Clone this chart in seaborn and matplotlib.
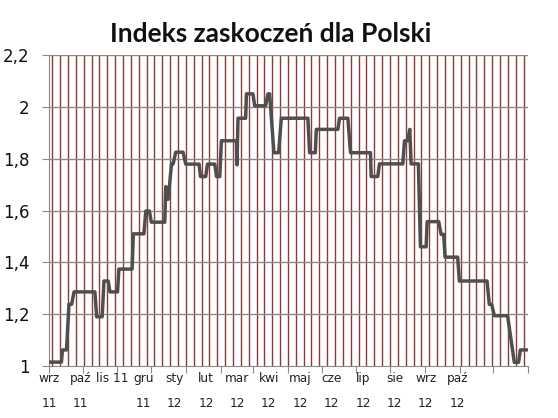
import numpy as np
import pandas as pd
import matplotlib
matplotlib.use("Agg")
import matplotlib.pyplot as plt
import seaborn as sns

# ---- data (x = days since 1 Sep 2011) ----
day_offset = [0, 11.1, 12.0, 15.6, 17.8, 20.2, 22.3, 40.9, 42.5, 47.4, 49.0, 52.8,
              54.3, 61.1, 62.3, 74.1, 75.2, 84.6, 86.3, 89.5, 91.2, 103.2, 104.1,
              106.2, 109.2, 110.6, 113.0, 119.5, 121.9, 133.8, 135.0, 139.7, 141.3,
              147.8, 149.3, 152.2, 153.7, 167.1, 167.6, 168.5, 175.3, 176.0, 181.8,
              183.4, 193.1, 195.2, 196.7, 200.5, 204.7, 207.1, 230.8, 232.3, 237.4,
              238.3, 257.5, 259.0, 266.4, 268.8, 286.6, 287.2, 293.1, 294.6, 315.4,
              316.9, 319.8, 321.6, 322.8, 329.3, 331.1, 336.2, 337.1, 347.4, 349.6,
              351.8, 353.1, 364.3, 365.8, 390.5, 392.5, 394.6, 397.0, 408.8, 414.8,
              418.6, 420.1, 426.1]
index_value = [1.015, 1.015, 1.062, 1.062, 1.238, 1.238, 1.286, 1.286, 1.19, 1.19,
               1.328, 1.328, 1.286, 1.286, 1.374, 1.374, 1.51, 1.51, 1.598, 1.598,
               1.555, 1.555, 1.692, 1.643, 1.779, 1.779, 1.825, 1.825, 1.779, 1.779,
               1.731, 1.731, 1.779, 1.779, 1.731, 1.731, 1.869, 1.869, 1.776, 1.956,
               1.956, 2.05, 2.05, 2.004, 2.004, 2.05, 2.05, 1.823, 1.823, 1.956,
               1.956, 1.823, 1.823, 1.913, 1.913, 1.956, 1.956, 1.823, 1.823, 1.731,
               1.731, 1.78, 1.78, 1.869, 1.869, 1.913, 1.78, 1.78, 1.46, 1.46,
               1.557, 1.557, 1.508, 1.508, 1.42, 1.42, 1.328, 1.328, 1.238, 1.238,
               1.194, 1.194, 1.014, 1.014, 1.062, 1.062]

x_labels = ["wrz\n11", "paź\n11", "lis 11", "gru\n11", "sty\n12", "lut\n12", "mar\n12",
            "kwi\n12", "maj\n12", "cze\n12", "lip\n12", "sie\n12", "wrz\n12", "paź\n12"]
label_days = [0, 28, 56, 84, 112, 140, 168, 196, 224, 252, 280, 308, 336, 364]
y_ticks = [1.0, 1.2, 1.4, 1.6, 1.8, 2.0, 2.2]
y_labels = ["1", "1,2", "1,4", "1,6", "1,8", "2", "2,2"]
title = "Indeks zaskoczeń dla Polski"

start = pd.Timestamp("2011-09-01")
month_starts = pd.date_range("2011-09-01", "2012-11-01", freq="MS")
month_days = [(m - start).days for m in month_starts]
x_end = month_days[-1]

df = pd.DataFrame({"day": day_offset, "value": index_value})

sns.set_style("white")
plt.rcParams["font.family"] = ["DejaVu Sans"]

fig = plt.figure(figsize=(5.58, 4.18), dpi=100)
ax = fig.add_axes([49 / 558, 1 - 366 / 418, 479 / 558, 311 / 418])

# weekly vertical gridlines (Sundays) as minor-tick gridlines
week_days = np.arange(3, x_end, 7)
ax.vlines(week_days, 1.0, 2.2, colors="#8B3A3A", lw=1.0, zorder=1, snap=True)
ax.hlines(y_ticks[1:], 0, x_end, colors="#8a8a8a", lw=1.0, zorder=1, snap=True)

sns.lineplot(data=df, x="day", y="value", ax=ax, color="#4f4f4f", lw=2.5,
             estimator=None, sort=False, zorder=3)

ax.set_xlim(0, x_end)
ax.set_ylim(1.0, 2.2)
ax.set_xlabel("")
ax.set_ylabel("")

ax.set_yticks(y_ticks)
ax.set_yticklabels(y_labels, fontsize=12, color="#111111")
ax.tick_params(axis="y", length=5, width=0.8, color="#8a8a8a", pad=9, direction="out", left=True)

ax.xaxis.remove_overlapping_locs = False
ax.set_xticks(month_days)
ax.set_xticklabels([])
ax.tick_params(axis="x", which="major", length=5, width=0.8, color="#8a8a8a",
               direction="out", bottom=True)
ax.set_xticks(label_days, minor=True)
ax.set_xticklabels(x_labels, minor=True, fontsize=8.7, color="#222222", linespacing=2.2)
ax.tick_params(axis="x", which="minor", length=0, pad=4)

for s in ["top", "right"]:
    ax.spines[s].set_visible(False)
for s in ["left", "bottom"]:
    ax.spines[s].set_color("#8a8a8a")
    ax.spines[s].set_linewidth(0.8)

fig.text(271 / 558, 1 - 42 / 418, title, ha="center", va="baseline",
         fontsize=19, fontweight="bold", family=["Lato", "DejaVu Sans"], color="#111111")

fig.savefig("out.png", dpi=100, facecolor="white")
